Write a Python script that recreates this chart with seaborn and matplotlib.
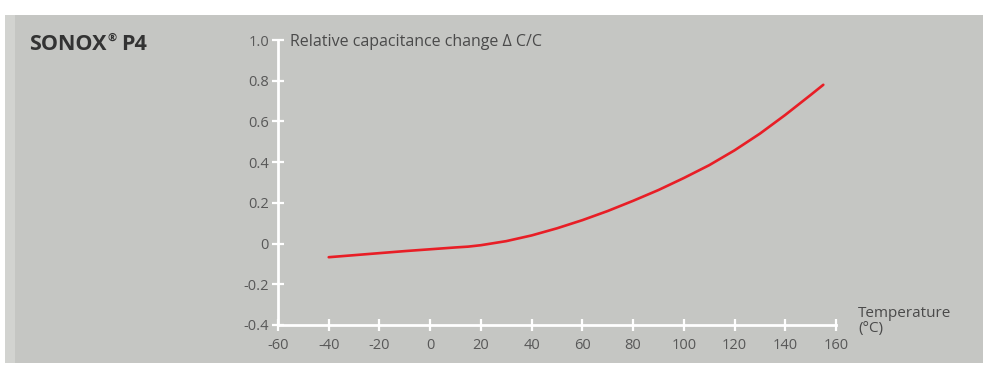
import matplotlib
matplotlib.use("Agg")
import matplotlib.pyplot as plt
import matplotlib.patches as mpatches
import seaborn as sns
import pandas as pd

# Relative capacitance change vs temperature
temperature_c = [-40, -30, -20, -10, 0, 10, 15, 20, 30, 40, 50, 60, 70, 80,
                 90, 100, 110, 120, 130, 140, 150, 155]
delta_c_over_c = [-0.067, -0.057, -0.047, -0.037, -0.028, -0.019, -0.015,
                  -0.008, 0.012, 0.040, 0.075, 0.115, 0.160, 0.210, 0.263,
                  0.322, 0.385, 0.458, 0.540, 0.632, 0.730, 0.780]

x_ticks = [-60, -40, -20, 0, 20, 40, 60, 80, 100, 120, 140, 160]
y_ticks = [-0.4, -0.2, 0, 0.2, 0.4, 0.6, 0.8, 1.0]
y_tick_labels = ["-0.4", "-0.2", "0", "0.2", "0.4", "0.6", "0.8", "1.0"]

y_title = "Relative capacitance change \u0394 C/C"
x_title = "Temperature\n(\u00b0C)"

df = pd.DataFrame({"T": temperature_c, "dC": delta_c_over_c})

sns.set_theme(style="white")
plt.rcParams["font.family"] = ["Open Sans", "DejaVu Sans"]

W, H = 986, 367
fig = plt.figure(figsize=(W / 100, H / 100), dpi=100)
fig.patch.set_facecolor("white")

# grey card behind the chart
panel_color = "#c5c6c3"
fig.patches.append(mpatches.Rectangle((5 / W, 1 - 363 / H), 978 / W, 348 / H,
                                      transform=fig.transFigure,
                                      facecolor=panel_color, edgecolor="none",
                                      zorder=-2))
fig.patches.append(mpatches.Rectangle((5 / W, 1 - 363 / H), 10 / W, 348 / H,
                                      transform=fig.transFigure,
                                      facecolor="#d2d3d0", edgecolor="none",
                                      zorder=-1))

ax = fig.add_axes([278 / W, 1 - 325 / H, 558 / W, 285 / H])
ax.set_facecolor("none")
ax.set_zorder(1)

sns.lineplot(data=df, x="T", y="dC", ax=ax, color="#e81e26", linewidth=1.9,
             solid_capstyle="round")

ax.set_xlim(-60, 160)
ax.set_ylim(-0.4, 1.0)
ax.set_xticks(x_ticks)
ax.set_xticklabels([str(v) for v in x_ticks])
ax.set_yticks(y_ticks)
ax.set_yticklabels(y_tick_labels)
ax.set_xlabel("")
ax.set_ylabel("")

for side in ["top", "right"]:
    ax.spines[side].set_visible(False)
for side in ["left", "bottom"]:
    ax.spines[side].set_color("white")
    ax.spines[side].set_linewidth(2)

ax.tick_params(axis="both", which="major", direction="inout", length=9,
               width=1.6, color="white", labelcolor="#585858", labelsize=10.5,
               bottom=True, left=True)
ax.tick_params(axis="x", pad=5)
ax.tick_params(axis="y", pad=2)

# product name with a small raised registered sign
fig.canvas.draw()
renderer = fig.canvas.get_renderer()
t1 = fig.text(29 / W, 1 - 45 / H, "SONOX", fontsize=15.5, fontweight="bold",
              color="#333333", ha="left", va="center")
x_end = t1.get_window_extent(renderer).x1
fig.text((x_end + 1) / W, 1 - 38 / H, "\u00ae", fontsize=8, fontweight="bold",
         color="#333333", ha="left", va="center")
fig.text((x_end + 15) / W, 1 - 45 / H, "P4", fontsize=15.5, fontweight="bold",
         color="#333333", ha="left", va="center")

fig.text(290 / W, 1 - 42 / H, y_title, fontsize=11.5, color="#4a4a4a",
         ha="left", va="center")
fig.text(858 / W, 1 - 321 / H, x_title, fontsize=11, color="#4a4a4a",
         ha="left", va="center", linespacing=1.0)

fig.savefig("out.png", dpi=100, facecolor=fig.get_facecolor())
